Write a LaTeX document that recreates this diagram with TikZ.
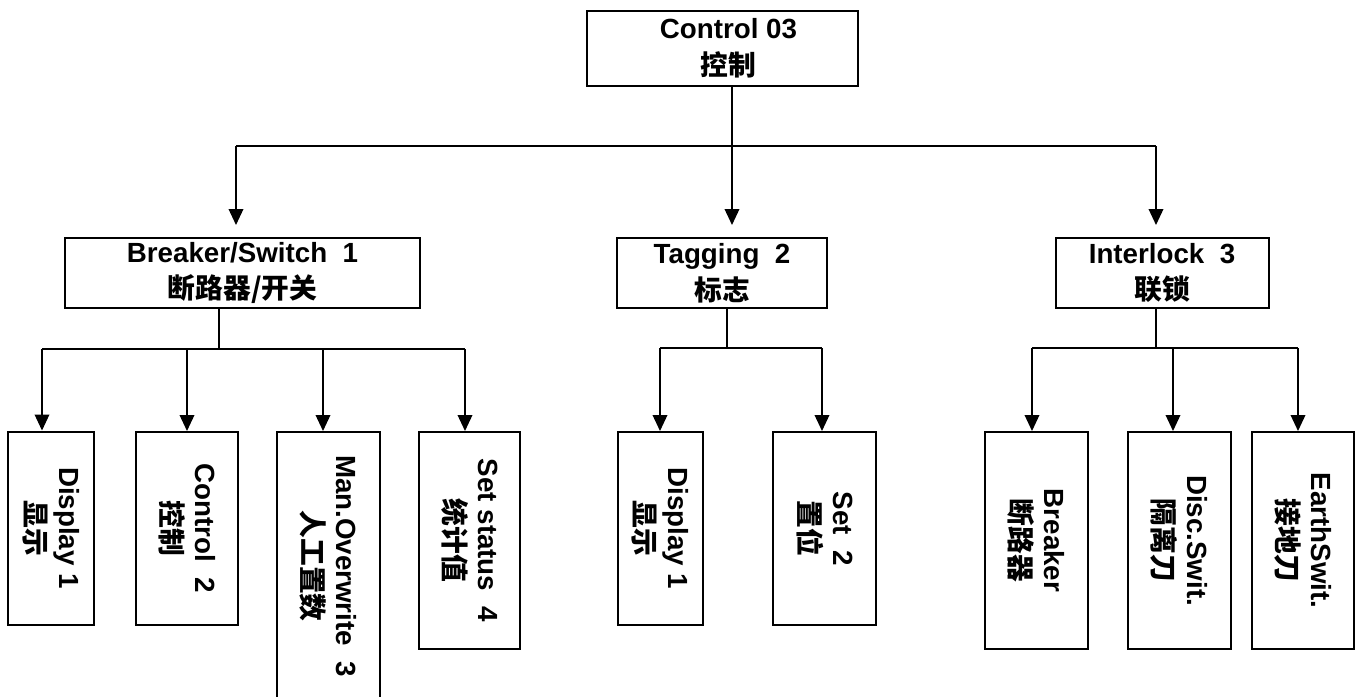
\documentclass[tikz,border=0pt]{standalone}
\usepackage{fontspec}
\setmainfont{Liberation Sans}
\newfontfamily\cjk{Noto Sans CJK SC}
\usetikzlibrary{arrows.meta}
\begin{document}
\begin{tikzpicture}[x=0.75pt,y=-0.75pt,
  box/.style={draw, line width=1.5pt, inner sep=0pt, align=center,
    font=\fontsize{20.8}{27.5}\selectfont\bfseries},
  vtext/.style={rotate=-90, align=center, inner sep=0pt,
    font=\fontsize{20.8}{25.5}\selectfont\bfseries},
  conn/.style={line width=1.1pt},
  barline/.style={line width=1.4pt},
  arr/.style={conn, -{Triangle[width=11pt,length=12pt]}},
]
\useasboundingbox[fill=white] (0,0) rectangle (1356,696);

% top
\node[box, minimum width=203.25pt, minimum height=56.25pt] (top) at (722.5,48.5) {\hspace*{9pt}Control 03\\\hspace*{9pt}{\cjk 控制}};

% level 1
\node[box, minimum width=266.25pt, minimum height=52.5pt] (bs) at (242.5,273) {Breaker/Switch\ \ 1\\{\cjk 断路器/开关}};
\node[box, minimum width=157.5pt, minimum height=52.5pt] (tag) at (722,273) {Tagging\ \ 2\\{\cjk 标志}};
\node[box, minimum width=159.75pt, minimum height=52.5pt] (il) at (1162,273) {Interlock\ \ 3\\{\cjk 联锁}};

% leaves
\node[box, minimum width=64.5pt, minimum height=144.75pt] (d1) at (51,528) {};
\node[box, minimum width=76.5pt, minimum height=144.75pt] (c2) at (187,528.5) {};
\node[box, minimum width=77.25pt, minimum height=201pt] (mo) at (328.5,566) {};
\node[box, minimum width=75.75pt, minimum height=162.75pt] (ss) at (469.5,540.5) {};
\node[box, minimum width=63.75pt, minimum height=144.75pt] (td) at (660.5,528.5) {};
\node[box, minimum width=77.25pt, minimum height=144.75pt] (ts) at (824.5,528.5) {};
\node[box, minimum width=77.25pt, minimum height=162.75pt] (ib) at (1036.5,540.5) {};
\node[box, minimum width=77.25pt, minimum height=162.75pt] (id) at (1179.5,540.5) {};
\node[box, minimum width=76.5pt, minimum height=162.75pt] (ie) at (1303,540.5) {};

\node[vtext] (d1t) at (d1) {Display 1\\{\cjk 显示}};
\node[vtext] (c2t) at (c2) {Control\ \ 2\\{\cjk 控制}};
\node[vtext] (mot) at (mo) {Man.Overwrite\ \ 3\\{\cjk 人工置数}};
\node[vtext] (sst) at (ss) {Set status\ \ 4\\{\cjk 统计值}};
\node[vtext] (tdt) at (td) {Display 1\\{\cjk 显示}};
\node[vtext] (tst) at (ts) {Set\ \ 2\\{\cjk 置位}};
\node[vtext] (ibt) at (ib) {Breaker\\{\cjk 断路器}};
\node[vtext] (idt) at (id) {Disc.Swit.\\{\cjk 隔离刀}};
\node[vtext] (iet) at (ie) {EarthSwit.\\{\cjk 接地刀}};

% top-level connectors
\coordinate (j0) at (732,146);
\coordinate (jl) at (236,146);
\coordinate (jr) at (1156,146);
\draw[conn] (top.south -| j0) -- (j0);
\draw[barline] (jl) -- (jr);
\draw[arr, shorten >=9pt] (jl) -- (jl |- bs.north);
\draw[arr, shorten >=9pt] (j0) -- (j0 |- tag.north);
\draw[arr, shorten >=9pt] (jr) -- (jr |- il.north);

% breaker group
\coordinate (b0) at (219,349);
\coordinate (b1) at (42,349);
\coordinate (b2) at (187,349);
\coordinate (b3) at (323,349);
\coordinate (b4) at (465,349);
\draw[conn] (bs.south -| b0) -- (b0);
\draw[barline] (b1) -- (b4);
\draw[arr] (b1) -- (b1 |- d1.north);
\draw[arr] (b2) -- (b2 |- c2.north);
\draw[arr] (b3) -- (b3 |- mo.north);
\draw[arr] (b4) -- (b4 |- ss.north);

% tagging group
\coordinate (t0) at (727,348);
\coordinate (t1) at (660,348);
\coordinate (t2) at (822,348);
\draw[conn] (tag.south -| t0) -- (t0);
\draw[barline] (t1) -- (t2);
\draw[arr] (t1) -- (t1 |- td.north);
\draw[arr] (t2) -- (t2 |- ts.north);

% interlock group
\coordinate (i0) at (1156,348);
\coordinate (i1) at (1032,348);
\coordinate (i2) at (1173,348);
\coordinate (i3) at (1298,348);
\draw[conn] (il.south -| i0) -- (i0);
\draw[barline] (i1) -- (i3);
\draw[arr] (i1) -- (i1 |- ib.north);
\draw[arr] (i2) -- (i2 |- id.north);
\draw[arr] (i3) -- (i3 |- ie.north);
\end{tikzpicture}
\end{document}
